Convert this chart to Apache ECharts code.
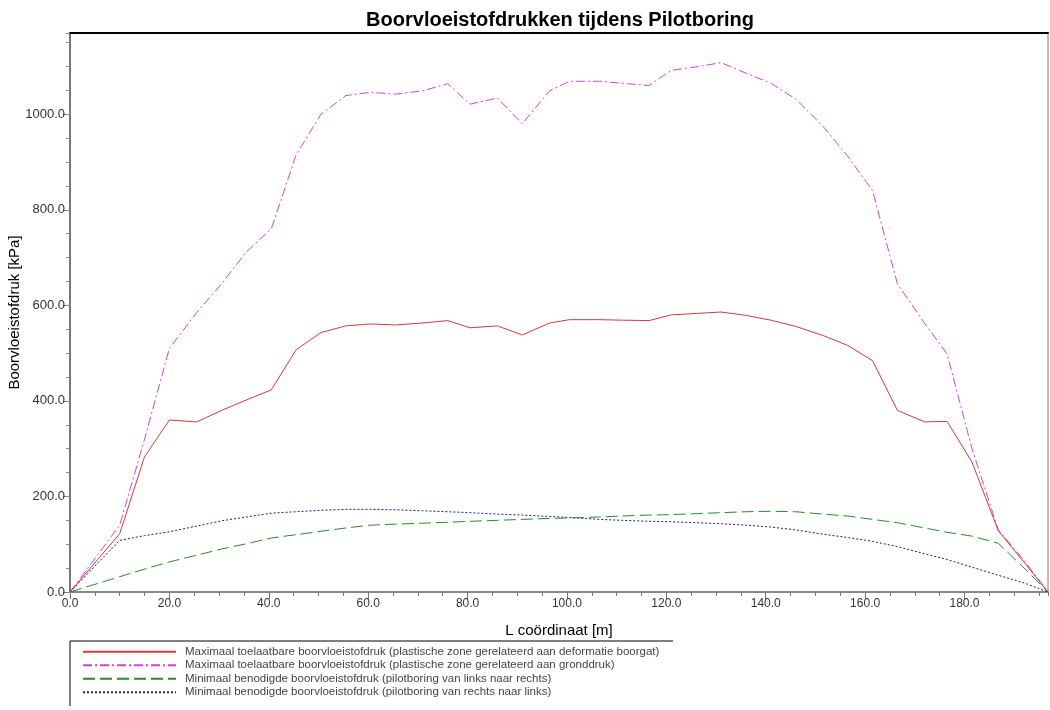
<!DOCTYPE html>
<html>
<head>
<meta charset="utf-8">
<script src="https://cdn.jsdelivr.net/npm/echarts@6/dist/echarts.min.js"></script>
<style>
html,body{margin:0;padding:0;background:#fff;}
#chart{width:1050px;height:710px;}
</style>
</head>
<body>
<div id="chart"></div>
<script>
// ---- data ----
var titleText = 'Boorvloeistofdrukken tijdens Pilotboring';
var xName = 'L coördinaat [m]';
var yName = 'Boorvloeistofdruk [kPa]';
var seriesNames = [
  'Maximaal toelaatbare boorvloeistofdruk (plastische zone gerelateerd aan deformatie boorgat)',
  'Maximaal toelaatbare boorvloeistofdruk (plastische zone gerelateerd aan gronddruk)',
  'Minimaal benodigde boorvloeistofdruk (pilotboring van links naar rechts)',
  'Minimaal benodigde boorvloeistofdruk (pilotboring van rechts naar links)'
];
var xCoord = [0, 10, 15, 20, 25.5, 30.5, 35.5, 40.5, 45.5, 50.5, 55.5, 60.5, 65.5, 71, 76, 80.5, 86, 91, 96.5, 100.5,
  106.5, 111, 116.5, 121, 126, 131, 136, 141, 146, 151.5, 156.5, 161.5, 166.5, 172, 176.5, 181.5, 186.8, 192, 196.8];
var maxDeformatie = [0, 122, 283, 360, 356, 380, 402, 423, 507, 543, 557, 561, 559, 563, 568, 553, 557, 538, 563, 570,
  570, 569, 568, 580, 583, 586, 579, 569, 556, 537, 516, 484, 380, 356, 357, 272, 128, 62, 0];
var maxGronddruk = [0, 140, 320, 510, 585, 645, 712, 760, 915, 1000, 1039, 1046, 1042, 1049, 1064, 1021, 1034, 980, 1049, 1069,
  1069, 1065, 1060, 1092, 1099, 1108, 1086, 1065, 1032, 975, 912, 840, 645, 562, 498, 300, 130, 66, 0];
var minLinksRechts = [0, 32, 48, 63, 77, 90, 101, 113, 120, 127, 134, 140, 142, 144, 146, 148, 150, 152, 154, 155,
  157, 159, 161, 162, 164, 166, 168, 169, 168, 163, 159, 152, 145, 134, 125, 117, 102, 50, 0];
var minRechtsLinks = [0, 108, 118, 126, 138, 149, 157, 165, 168, 171, 173, 173, 172, 170, 168, 166, 163, 161, 158, 156,
  152, 150, 148, 147, 145, 143, 140, 136, 130, 121, 114, 106, 95, 80, 68, 52, 35, 19, 0];
var xMin = 0, xMax = 196.8, xMajor = 20, xMinor = 5;
var yMin = 0, yMax = 1170, yMajor = 200, yMinor = 50;

function pairs(ys) { return xCoord.map(function (x, i) { return [x, ys[i]]; }); }

var FONT = "'Liberation Sans', Arial, Helvetica, sans-serif";
var chart = echarts.init(document.getElementById('chart'), null, {renderer: 'canvas'});

var lineStyles = [
  {color: '#d43a3a', width: 1, type: 'solid'},
  {color: '#cc44dd', width: 1, type: [9, 3, 2, 3]},
  {color: '#2a8a2a', width: 1, type: [12, 5]},
  {color: '#1c1c7a', width: 1, type: [2, 2]}
];
var datasets = [maxDeformatie, maxGronddruk, minLinksRechts, minRechtsLinks];

var option = {
  backgroundColor: '#ffffff',
  animation: false,
  title: {
    text: titleText, left: 555, top: 5, textAlign: 'center',
    textStyle: {fontFamily: FONT, fontSize: 20, fontWeight: 'bold', color: '#000'}
  },
  legend: {
    orient: 'vertical', left: 82, top: 645, padding: 0,
    itemWidth: 93, itemHeight: 10, itemGap: 0,
    data: seriesNames,
    itemStyle: {opacity: 0},
    textStyle: {fontFamily: FONT, fontSize: 11.5, lineHeight: 13.5, color: '#444', padding: [0, 0, 0, 4]}
  },
  grid: {left: 70, right: 2, top: 33, bottom: 118, containLabel: false, outerBoundsMode: 'none'},
  xAxis: [
    {
      type: 'value', min: xMin, max: xMax, interval: xMajor, position: 'bottom',
      name: xName, nameLocation: 'middle', nameGap: 31, nameMoveOverlap: false,
      nameTextStyle: {fontFamily: FONT, fontSize: 15, color: '#000'},
      axisLine: {show: true, onZero: false, lineStyle: {color: '#888', width: 2}},
      axisTick: {show: true, length: 7, lineStyle: {color: '#777', width: 1}},
      axisLabel: {fontFamily: FONT, fontSize: 12, color: '#333', margin: 6, showMaxLabel: false,
        formatter: function (v) { return v.toFixed(1); }},
      splitLine: {show: false}
    },
    {
      type: 'value', min: xMin, max: xMax, interval: xMinor, position: 'bottom',
      axisLine: {show: false, onZero: false},
      axisTick: {show: true, length: 4, lineStyle: {color: '#777', width: 1}},
      axisLabel: {show: false}, splitLine: {show: false}
    },
    {
      type: 'value', min: xMin, max: xMax, position: 'top',
      axisLine: {show: true, onZero: false, lineStyle: {color: '#000', width: 2}},
      axisTick: {show: false}, axisLabel: {show: false}, splitLine: {show: false}
    }
  ],
  yAxis: [
    {
      type: 'value', min: yMin, max: yMax, interval: yMajor, position: 'left',
      name: yName, nameLocation: 'middle', nameGap: 48, nameRotate: 90, nameMoveOverlap: false,
      nameTextStyle: {fontFamily: FONT, fontSize: 15, color: '#000'},
      axisLine: {show: true, onZero: false, lineStyle: {color: '#777', width: 2}},
      axisTick: {show: true, length: 7, lineStyle: {color: '#777', width: 1}},
      axisLabel: {fontFamily: FONT, fontSize: 13, color: '#333', margin: 5, showMaxLabel: false,
        formatter: function (v) { return v.toFixed(1); }},
      splitLine: {show: false}
    },
    {
      type: 'value', min: yMin, max: yMax, interval: yMinor, position: 'left',
      axisLine: {show: false, onZero: false},
      axisTick: {show: true, length: 4, lineStyle: {color: '#888', width: 1}},
      axisLabel: {show: false}, splitLine: {show: false}
    },
    {
      type: 'value', min: yMin, max: yMax, position: 'right',
      axisLine: {show: true, onZero: false, lineStyle: {color: '#aaa', width: 1.5}},
      axisTick: {show: false}, axisLabel: {show: false}, splitLine: {show: false}
    }
  ],
  graphic: [
    {type: 'line', shape: {x1: 70, y1: 641, x2: 673, y2: 641}, style: {stroke: '#000', lineWidth: 1}},
    {type: 'line', shape: {x1: 70, y1: 641, x2: 70, y2: 706}, style: {stroke: '#000', lineWidth: 1}}
  ],
  series: seriesNames.map(function (n, i) {
    return {
      name: n, type: 'line', xAxisIndex: 0, yAxisIndex: 0,
      data: pairs(datasets[i]),
      showSymbol: false, symbol: 'none', smooth: false,
      lineStyle: lineStyles[i], itemStyle: {color: lineStyles[i].color},
      z: 4 - i
    };
  })
};
chart.setOption(option);
</script>
</body>
</html>
